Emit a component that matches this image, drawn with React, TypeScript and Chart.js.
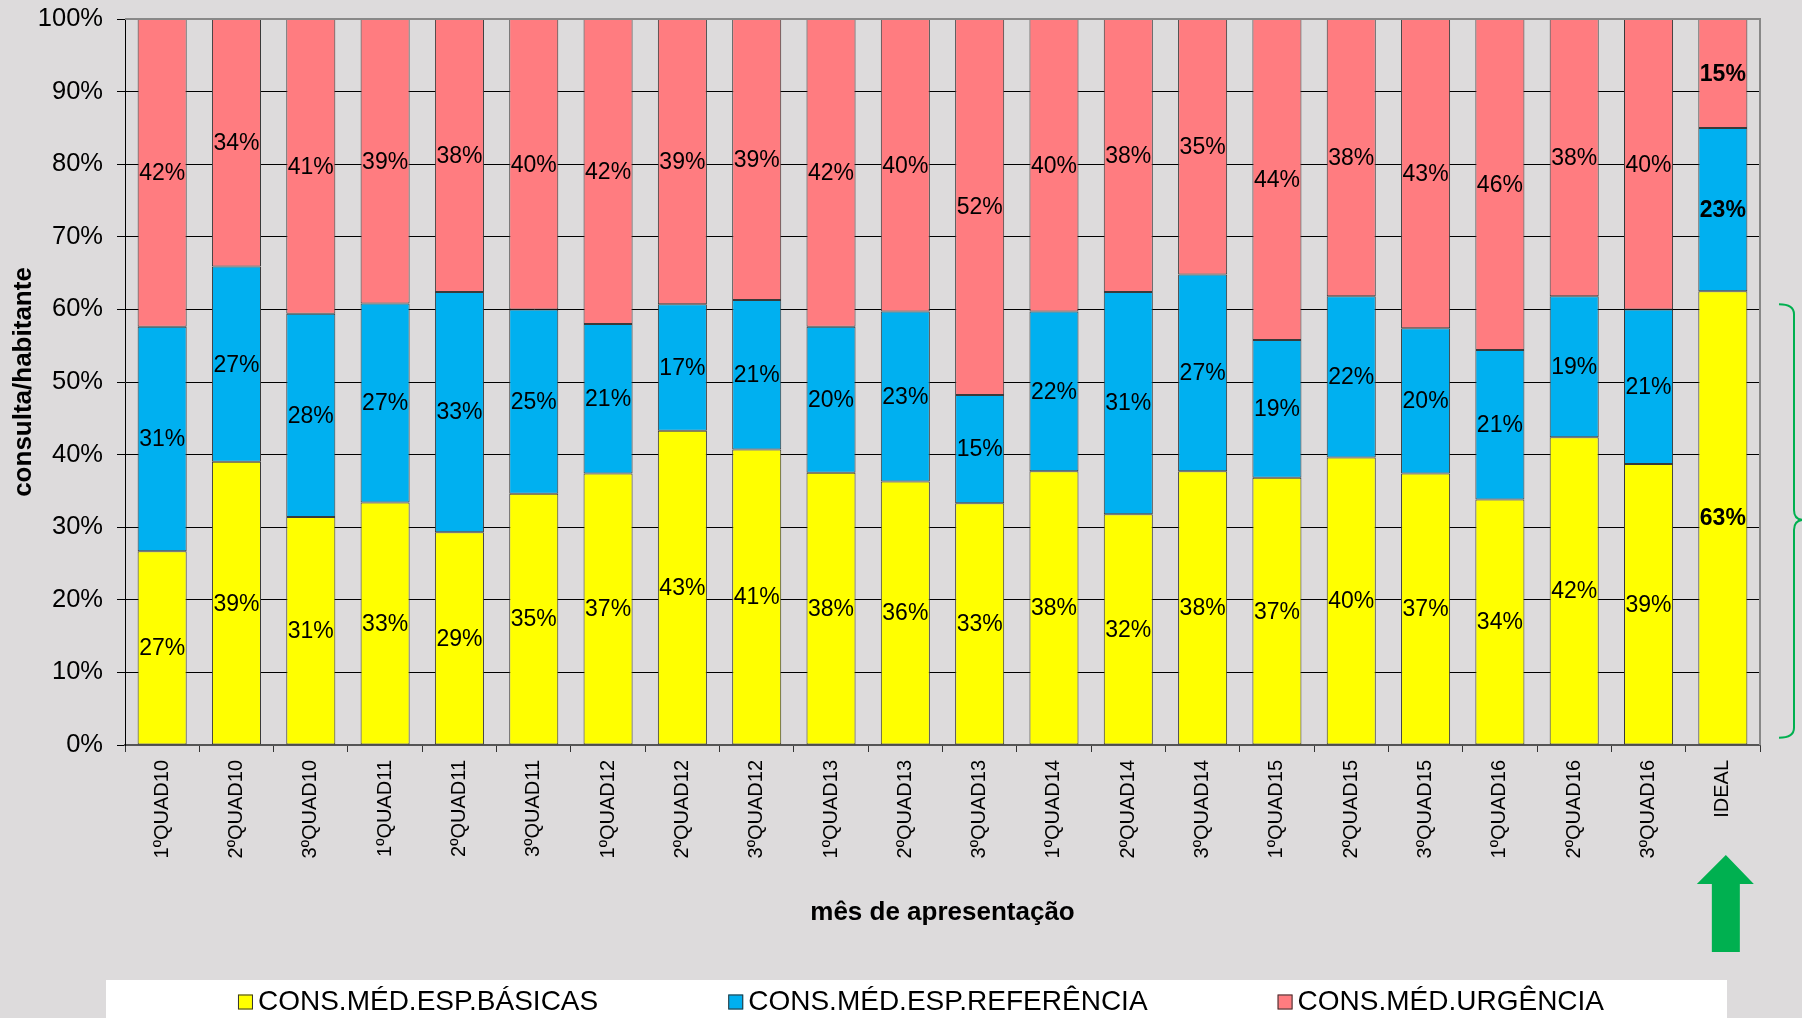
import React, { useEffect, useRef } from "react";
import { Chart, registerables } from "chart.js";

Chart.register(...registerables);

const categories = [
  "1ºQUAD10", "2ºQUAD10", "3ºQUAD10", "1ºQUAD11", "2ºQUAD11", "3ºQUAD11",
  "1ºQUAD12", "2ºQUAD12", "3ºQUAD12", "1ºQUAD13", "2ºQUAD13", "3ºQUAD13",
  "1ºQUAD14", "2ºQUAD14", "3ºQUAD14", "1ºQUAD15", "2ºQUAD15", "3ºQUAD15",
  "1ºQUAD16", "2ºQUAD16", "3ºQUAD16", "IDEAL",
];

const basicas = [26.7, 39.0, 31.4, 33.4, 29.3, 34.6, 37.4, 43.3, 40.7, 37.5, 36.3, 33.3, 37.7, 31.8, 37.7, 36.8, 39.6, 37.4, 33.8, 42.4, 38.7, 62.5];
const referencia = [30.9, 26.9, 28.0, 27.4, 33.1, 25.4, 20.6, 17.4, 20.6, 20.1, 23.4, 14.9, 22.0, 30.6, 27.1, 19.0, 22.2, 20.0, 20.6, 19.4, 21.3, 22.5];
const urgencia = [42.4, 34.1, 40.6, 39.2, 37.6, 40.0, 42.0, 39.3, 38.7, 42.4, 40.3, 51.8, 40.3, 37.6, 35.2, 44.2, 38.2, 42.6, 45.6, 38.2, 40.0, 15.0];

const seriesNames = ["CONS.MÉD.ESP.BÁSICAS", "CONS.MÉD.ESP.REFERÊNCIA", "CONS.MÉD.URGÊNCIA"];
const seriesColors = ["#FFFF00", "#00B0F0", "#FF7C80"];

const FONT = '"Liberation Sans", Arial, Helvetica, sans-serif';
const BG = "#DDDBDC";
const GREEN = "#00B050";

const bgPlugin = {
  id: "bg",
  beforeDraw(chart: any) {
    const { ctx, width, height } = chart;
    ctx.save();
    ctx.fillStyle = BG;
    ctx.fillRect(0, 0, width, height);
    ctx.restore();
  },
};

const labelsPlugin = {
  id: "segLabels",
  afterDatasetsDraw(chart: any) {
    const { ctx, chartArea } = chart;
    ctx.save();
    // plot frame (top & right, gray)
    ctx.strokeStyle = "#888888";
    ctx.lineWidth = 2;
    ctx.beginPath();
    ctx.moveTo(chartArea.left, chartArea.top);
    ctx.lineTo(chartArea.right, chartArea.top);
    ctx.lineTo(chartArea.right, chartArea.bottom);
    ctx.stroke();

    ctx.fillStyle = "#000";
    ctx.textAlign = "center";
    ctx.textBaseline = "middle";
    const last = categories.length - 1;
    chart.data.datasets.forEach((ds: any, di: number) => {
      const meta = chart.getDatasetMeta(di);
      meta.data.forEach((el: any, i: number) => {
        const p = el.getProps(["x", "y", "base"], true);
        const v = ds.data[i];
        ctx.font = (i === last ? "bold " : "") + "23px " + FONT;
        ctx.fillText(Math.round(v) + "%", p.x, (p.y + p.base) / 2 + 1);
      });
    });
    ctx.restore();
  },
};

const decoPlugin = {
  id: "deco",
  afterDraw(chart: any) {
    const { ctx, chartArea, scales } = chart;
    const y = scales.y;
    const x = scales.x;
    ctx.save();

    // legend
    ctx.fillStyle = "#FFFFFF";
    ctx.fillRect(106, 980, 1621, 40);
    ctx.font = "28px " + FONT;
    ctx.textBaseline = "middle";
    ctx.textAlign = "left";
    const box = 15, gap = 5, spacing = 130;
    const widths = seriesNames.map((n) => ctx.measureText(n).width);
    const total = widths.reduce((a, b) => a + b + box + gap, 0) + spacing * (seriesNames.length - 1);
    let cx = 921 - total / 2;
    const ly = 1001;
    seriesNames.forEach((n, i) => {
      ctx.fillStyle = seriesColors[i];
      ctx.fillRect(cx, ly - box / 2 + 1, box, box);
      ctx.strokeStyle = "#333";
      ctx.lineWidth = 1;
      ctx.strokeRect(cx + 0.5, ly - box / 2 + 1.5, box - 1, box - 1);
      ctx.fillStyle = "#000";
      ctx.fillText(n, cx + box + gap, ly + 1);
      cx += box + gap + widths[i] + spacing;
    });

    // green brace at right
    const bx = chartArea.right + 34;
    const top = y.getPixelForValue(60.7);
    const bot = y.getPixelForValue(1);
    const mid = y.getPixelForValue(31);
    ctx.strokeStyle = GREEN;
    ctx.lineWidth = 2;
    ctx.beginPath();
    ctx.moveTo(bx - 15, top);
    ctx.quadraticCurveTo(bx, top, bx, top + 10);
    ctx.lineTo(bx, mid - 10);
    ctx.quadraticCurveTo(bx, mid, bx + 10, mid);
    ctx.quadraticCurveTo(bx, mid, bx, mid + 10);
    ctx.lineTo(bx, bot - 10);
    ctx.quadraticCurveTo(bx, bot, bx - 15, bot);
    ctx.stroke();

    // green arrow under IDEAL
    const ax = x.getPixelForValue(categories.length - 1) + 3;
    ctx.fillStyle = GREEN;
    ctx.beginPath();
    ctx.moveTo(ax, 855);
    ctx.lineTo(ax + 28, 884);
    ctx.lineTo(ax + 14, 884);
    ctx.lineTo(ax + 14, 952);
    ctx.lineTo(ax - 14, 952);
    ctx.lineTo(ax - 14, 884);
    ctx.lineTo(ax - 29, 884);
    ctx.closePath();
    ctx.fill();
    ctx.restore();
  },
};

export default function App() {
  const canvasRef = useRef<HTMLCanvasElement | null>(null);

  useEffect(() => {
    if (!canvasRef.current) return;
    const mk = (label: string, data: number[], color: string) => ({
      label,
      data,
      backgroundColor: color,
      borderColor: "#3a3a3a",
      borderWidth: 1,
      borderSkipped: false,
      categoryPercentage: 1,
      barPercentage: 0.66,
    });
    const chart = new Chart(canvasRef.current, {
      type: "bar",
      data: {
        labels: categories,
        datasets: [
          mk(seriesNames[0], basicas, seriesColors[0]),
          mk(seriesNames[1], referencia, seriesColors[1]),
          mk(seriesNames[2], urgencia, seriesColors[2]),
        ],
      },
      options: {
        animation: false,
        responsive: true,
        maintainAspectRatio: false,
        layout: { padding: { left: 0, right: 42, top: 19, bottom: 90 } },
        plugins: {
          legend: { display: false },
          tooltip: { enabled: false },
        },
        scales: {
          x: {
            stacked: true,
            grid: {
              offset: true,
              drawOnChartArea: false,
              drawTicks: true,
              tickLength: 7,
              color: "#333",
            },
            border: { color: "#555", width: 2 },
            ticks: {
              font: { size: 20, family: FONT },
              color: "#000",
              maxRotation: 90,
              minRotation: 90,
              padding: 8,
              autoSkip: false,
            },
            title: {
              display: true,
              text: "mês de apresentação",
              font: { size: 26, weight: "bold", family: FONT },
              color: "#000",
              padding: { top: 0, bottom: 0 },
            },
            afterFit: (s: any) => {
              s.height = 183;
              s.paddingLeft = 0;
              s.paddingRight = 0;
              s.paddingTop = 0;
              s.paddingBottom = 0;
            },
          },
          y: {
            stacked: true,
            min: 0,
            max: 100,
            ticks: {
              stepSize: 10,
              font: { size: 25.5, family: FONT },
              color: "#000",
              padding: 14,
              callback: (v: any) => v + "%",
            },
            grid: {
              color: (c: any) => (c.tick && c.tick.value === 100 ? "#888" : "#000"),
              lineWidth: 1,
              tickColor: "#000",
              tickLength: 8,
            },
            border: { color: "#000", width: 1 },
            title: {
              display: true,
              text: "consulta/habitante",
              font: { size: 26, weight: "bold", family: FONT },
              color: "#000",
              padding: { top: 8, bottom: 0 },
            },
            afterFit: (s: any) => {
              s.width = 125;
              s.paddingLeft = 0;
              s.paddingRight = 0;
              s.paddingTop = 0;
              s.paddingBottom = 0;
            },
          },
        },
      } as any,
      plugins: [bgPlugin, labelsPlugin, decoPlugin],
    });
    return () => chart.destroy();
  }, []);

  return (
    <div style={{ position: "fixed", left: 0, top: 0, width: 1802, height: 1018, background: BG }}>
      <canvas ref={canvasRef} />
    </div>
  );
}
